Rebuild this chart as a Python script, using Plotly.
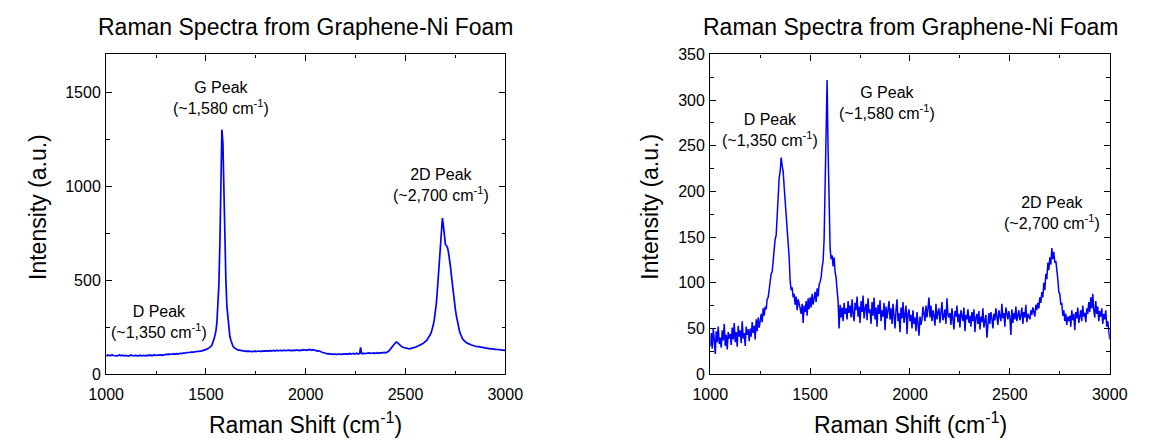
import plotly.graph_objects as go

# Raman shift sample positions (cm^-1), one value every 5 cm^-1
shift = list(range(1000, 3001, 5))

# Left panel: intensity, one row per 100 cm^-1
left_intensity = (
    [101, 98, 102, 99, 97, 100, 103, 99, 98, 101, 100, 97, 99, 102, 100, 98, 101, 99, 97, 100] +
    [99, 101, 98, 96, 100, 102, 98, 99, 97, 101, 100, 98, 96, 99, 101, 97, 99, 100, 98, 101] +
    [100, 98, 101, 99, 102, 100, 98, 101, 103, 100, 101, 99, 102, 104, 101, 103, 100, 102, 104, 103] +
    [104, 106, 103, 107, 105, 104, 106, 109, 107, 106, 109, 108, 110, 108, 111, 110, 109, 112, 111, 113] +
    [113, 115, 114, 116, 115, 117, 116, 118, 117, 119, 119, 121, 120, 122, 123, 122, 124, 125, 126, 128] +
    [130, 133, 136, 139, 143, 147, 155, 168, 185, 205, 230, 275, 350, 480, 700, 1000, 1300, 1230, 950, 700] +
    [500, 360, 290, 240, 200, 180, 162, 150, 142, 137, 134, 131, 129, 128, 126, 125, 126, 124, 123, 122] +
    [121, 123, 120, 122, 121, 119, 122, 120, 121, 123, 120, 122, 121, 123, 122, 120, 123, 121, 124, 122] +
    [123, 125, 122, 124, 126, 123, 125, 124, 126, 123, 125, 127, 124, 126, 125, 127, 124, 126, 128, 125] +
    [126, 124, 127, 125, 128, 126, 124, 127, 125, 128, 126, 129, 127, 125, 128, 126, 129, 127, 130, 128] +
    [129, 127, 130, 128, 131, 129, 127, 130, 128, 126, 128, 125, 123, 124, 121, 119, 117, 115, 114, 112] +
    [111, 110, 108, 109, 107, 106, 108, 105, 107, 106, 104, 106, 105, 107, 106, 104, 107, 105, 108, 106] +
    [107, 109, 106, 108, 110, 107, 109, 108, 110, 107, 109, 111, 108, 110, 109, 143, 110, 108, 111, 109] +
    [110, 112, 109, 111, 113, 110, 112, 111, 113, 110, 112, 114, 111, 113, 112, 114, 113, 115, 114, 116] +
    [113, 115, 118, 122, 128, 135, 143, 150, 157, 163, 168, 171, 169, 163, 157, 151, 147, 144, 142, 140] +
    [139, 138, 137, 136, 135, 136, 137, 138, 140, 142, 144, 146, 148, 150, 153, 156, 158, 161, 165, 168] +
    [172, 178, 185, 192, 200, 212, 225, 243, 265, 295, 330, 380, 450, 520, 600, 680, 760, 830, 790, 720] +
    [690, 683, 676, 650, 620, 575, 525, 470, 430, 385, 345, 310, 280, 252, 232, 215, 200, 190, 182, 176] +
    [171, 168, 165, 161, 159, 158, 155, 153, 153, 150, 149, 148, 146, 146, 145, 143, 143, 141, 141, 139] +
    [139, 138, 137, 138, 136, 135, 136, 134, 133, 134, 132, 131, 132, 130, 131, 129, 128, 129, 127, 128] +
    [126]
)

# Right panel: intensity, one row per 100 cm^-1
right_intensity = (
    [30, 45, 28, 50, 38, 22, 47, 35, 52, 33, 40, 29, 48, 37, 55, 31, 43, 27, 46, 39] +
    [44, 32, 51, 38, 56, 35, 46, 30, 53, 41, 48, 34, 58, 39, 45, 31, 52, 43, 49, 36] +
    [50, 41, 57, 45, 53, 38, 60, 47, 62, 51, 58, 66, 57, 72, 64, 74, 71, 82, 84, 95] +
    [98, 110, 112, 126, 130, 148, 152, 176, 188, 215, 222, 237, 228, 222, 205, 190, 172, 160, 148, 128] +
    [102, 92, 95, 84, 88, 76, 85, 70, 82, 74, 72, 66, 77, 56, 75, 68, 80, 64, 83, 71] +
    [84, 73, 88, 76, 82, 90, 79, 94, 85, 98, 101, 106, 117, 124, 148, 200, 290, 322, 245, 170] +
    [138, 126, 130, 118, 128, 112, 106, 92, 80, 50, 76, 62, 73, 58, 78, 66, 72, 60, 80, 67] +
    [75, 62, 82, 66, 58, 78, 70, 85, 63, 74, 56, 80, 68, 86, 61, 72, 77, 59, 83, 67] +
    [71, 55, 79, 64, 84, 60, 73, 52, 76, 66, 81, 58, 70, 63, 78, 48, 74, 61, 69, 80] +
    [60, 72, 55, 77, 64, 50, 70, 82, 58, 67, 46, 73, 61, 79, 56, 68, 75, 44, 66, 71] +
    [58, 65, 50, 70, 55, 62, 47, 68, 57, 42, 63, 54, 60, 74, 66, 58, 75, 62, 72, 84] +
    [62, 75, 58, 70, 64, 53, 77, 60, 68, 72, 56, 66, 79, 59, 63, 71, 55, 83, 65, 62] +
    [67, 54, 72, 60, 49, 69, 63, 75, 57, 66, 51, 70, 62, 58, 73, 47, 65, 60, 71, 56] +
    [64, 52, 68, 58, 71, 46, 62, 66, 55, 69, 49, 63, 57, 72, 51, 60, 65, 40, 59, 67] +
    [55, 68, 61, 50, 66, 59, 72, 63, 54, 70, 65, 58, 77, 61, 67, 52, 73, 64, 60, 69] +
    [62, 43, 71, 56, 67, 60, 74, 58, 66, 70, 59, 64, 73, 55, 68, 62, 76, 57, 66, 63] +
    [60, 70, 65, 73, 68, 63, 76, 70, 78, 72, 84, 78, 90, 84, 100, 92, 110, 104, 122, 114] +
    [128, 120, 138, 126, 134, 122, 124, 108, 104, 90, 88, 76, 78, 64, 70, 58, 66, 54, 63, 58] +
    [64, 52, 70, 59, 66, 48, 68, 61, 73, 56, 65, 70, 58, 75, 63, 67, 57, 72, 66, 79] +
    [68, 84, 72, 88, 70, 62, 80, 66, 74, 58, 69, 63, 72, 55, 66, 60, 70, 52, 58, 48] +
    [38]
)

title_text = "Raman Spectra from Graphene-Ni Foam"
x_title = "Raman Shift (cm<sup>-1</sup>)"
y_title = "Intensity (a.u.)"

# peak labels: (text, x, y) per panel
left_labels = [
    ("D Peak<br>(~1,350 cm<sup>-1</sup>)", 1266, 279),
    ("G Peak<br>(~1,580 cm<sup>-1</sup>)", 1578, 1467),
    ("2D Peak<br>(~2,700 cm<sup>-1</sup>)", 2680, 1007),
]
right_labels = [
    ("D Peak<br>(~1,350 cm<sup>-1</sup>)", 1298, 267),
    ("G Peak<br>(~1,580 cm<sup>-1</sup>)", 1885, 297),
    ("2D Peak<br>(~2,700 cm<sup>-1</sup>)", 2711, 176),
]

FONT = "Liberation Sans, Arial, sans-serif"
BLUE = "#0000FF"
W, H = 1151, 445

fig = go.Figure()
fig.add_trace(go.Scatter(x=shift, y=left_intensity, mode="lines",
                         line=dict(color=BLUE, width=1.7), xaxis="x", yaxis="y",
                         showlegend=False, hoverinfo="skip"))
fig.add_trace(go.Scatter(x=shift, y=right_intensity, mode="lines",
                         line=dict(color=BLUE, width=1.5), xaxis="x2", yaxis="y2",
                         showlegend=False, hoverinfo="skip"))


def axis_style(dtick, minor_dtick, rng, domain, anchor, standoff):
    return dict(
        range=rng, domain=domain, anchor=anchor, dtick=dtick, tick0=0,
        showline=True, linecolor="black", linewidth=1.3, mirror="allticks",
        ticks="inside", ticklen=6, tickwidth=1.2, tickcolor="black",
        minor=dict(ticks="inside", ticklen=3.5, tickwidth=1.1, tickcolor="black", dtick=minor_dtick),
        showgrid=False, zeroline=False, ticklabelstandoff=standoff,
        tickfont=dict(family=FONT, size=16, color="black"),
    )


xd1 = [91 / W, 503 / W]
xd2 = [714.6 / W, 1127 / W]
yd = [(H - 380.7) / H, (H - 48.3) / H]

fig.update_layout(
    width=W, height=H, margin=dict(l=0, r=0, t=0, b=0),
    paper_bgcolor="white", plot_bgcolor="white",
    font=dict(family=FONT, color="black"),
    xaxis=axis_style(500, 250, [1000, 3000], xd1, "y", 5),
    yaxis=axis_style(500, 250, [0, 1700], yd, "x", 1),
    xaxis2=axis_style(500, 250, [1000, 3000], xd2, "y2", 5),
    yaxis2=axis_style(50, 25, [0, 350], yd, "x2", 1),
)

ann = []
for cx in [(xd1[0] + xd1[1]) / 2, (xd2[0] + xd2[1]) / 2]:
    ann.append(dict(text=title_text, x=cx, y=1 - 20 / H, xref="paper", yref="paper",
                    showarrow=False, xanchor="center", yanchor="middle",
                    font=dict(family=FONT, size=23, color="black")))
    ann.append(dict(text=x_title, x=cx, y=1 - 432 / H, xref="paper", yref="paper",
                    showarrow=False, xanchor="center", yanchor="middle",
                    font=dict(family=FONT, size=23, color="black")))
for yx in [20.5 / W, 653 / W]:
    ann.append(dict(text=y_title, x=yx, y=1 - 207 / H, xref="paper", yref="paper",
                    showarrow=False, xanchor="center", yanchor="middle", textangle=-90,
                    font=dict(family=FONT, size=23, color="black")))
for (t, x, y) in left_labels:
    ann.append(dict(text=t, x=x, y=y, xref="x", yref="y", showarrow=False,
                    xanchor="center", yanchor="middle",
                    font=dict(family=FONT, size=16, color="black")))
for (t, x, y) in right_labels:
    ann.append(dict(text=t, x=x, y=y, xref="x2", yref="y2", showarrow=False,
                    xanchor="center", yanchor="middle",
                    font=dict(family=FONT, size=16, color="black")))
fig.update_layout(annotations=ann)

fig.write_html("out.html")
